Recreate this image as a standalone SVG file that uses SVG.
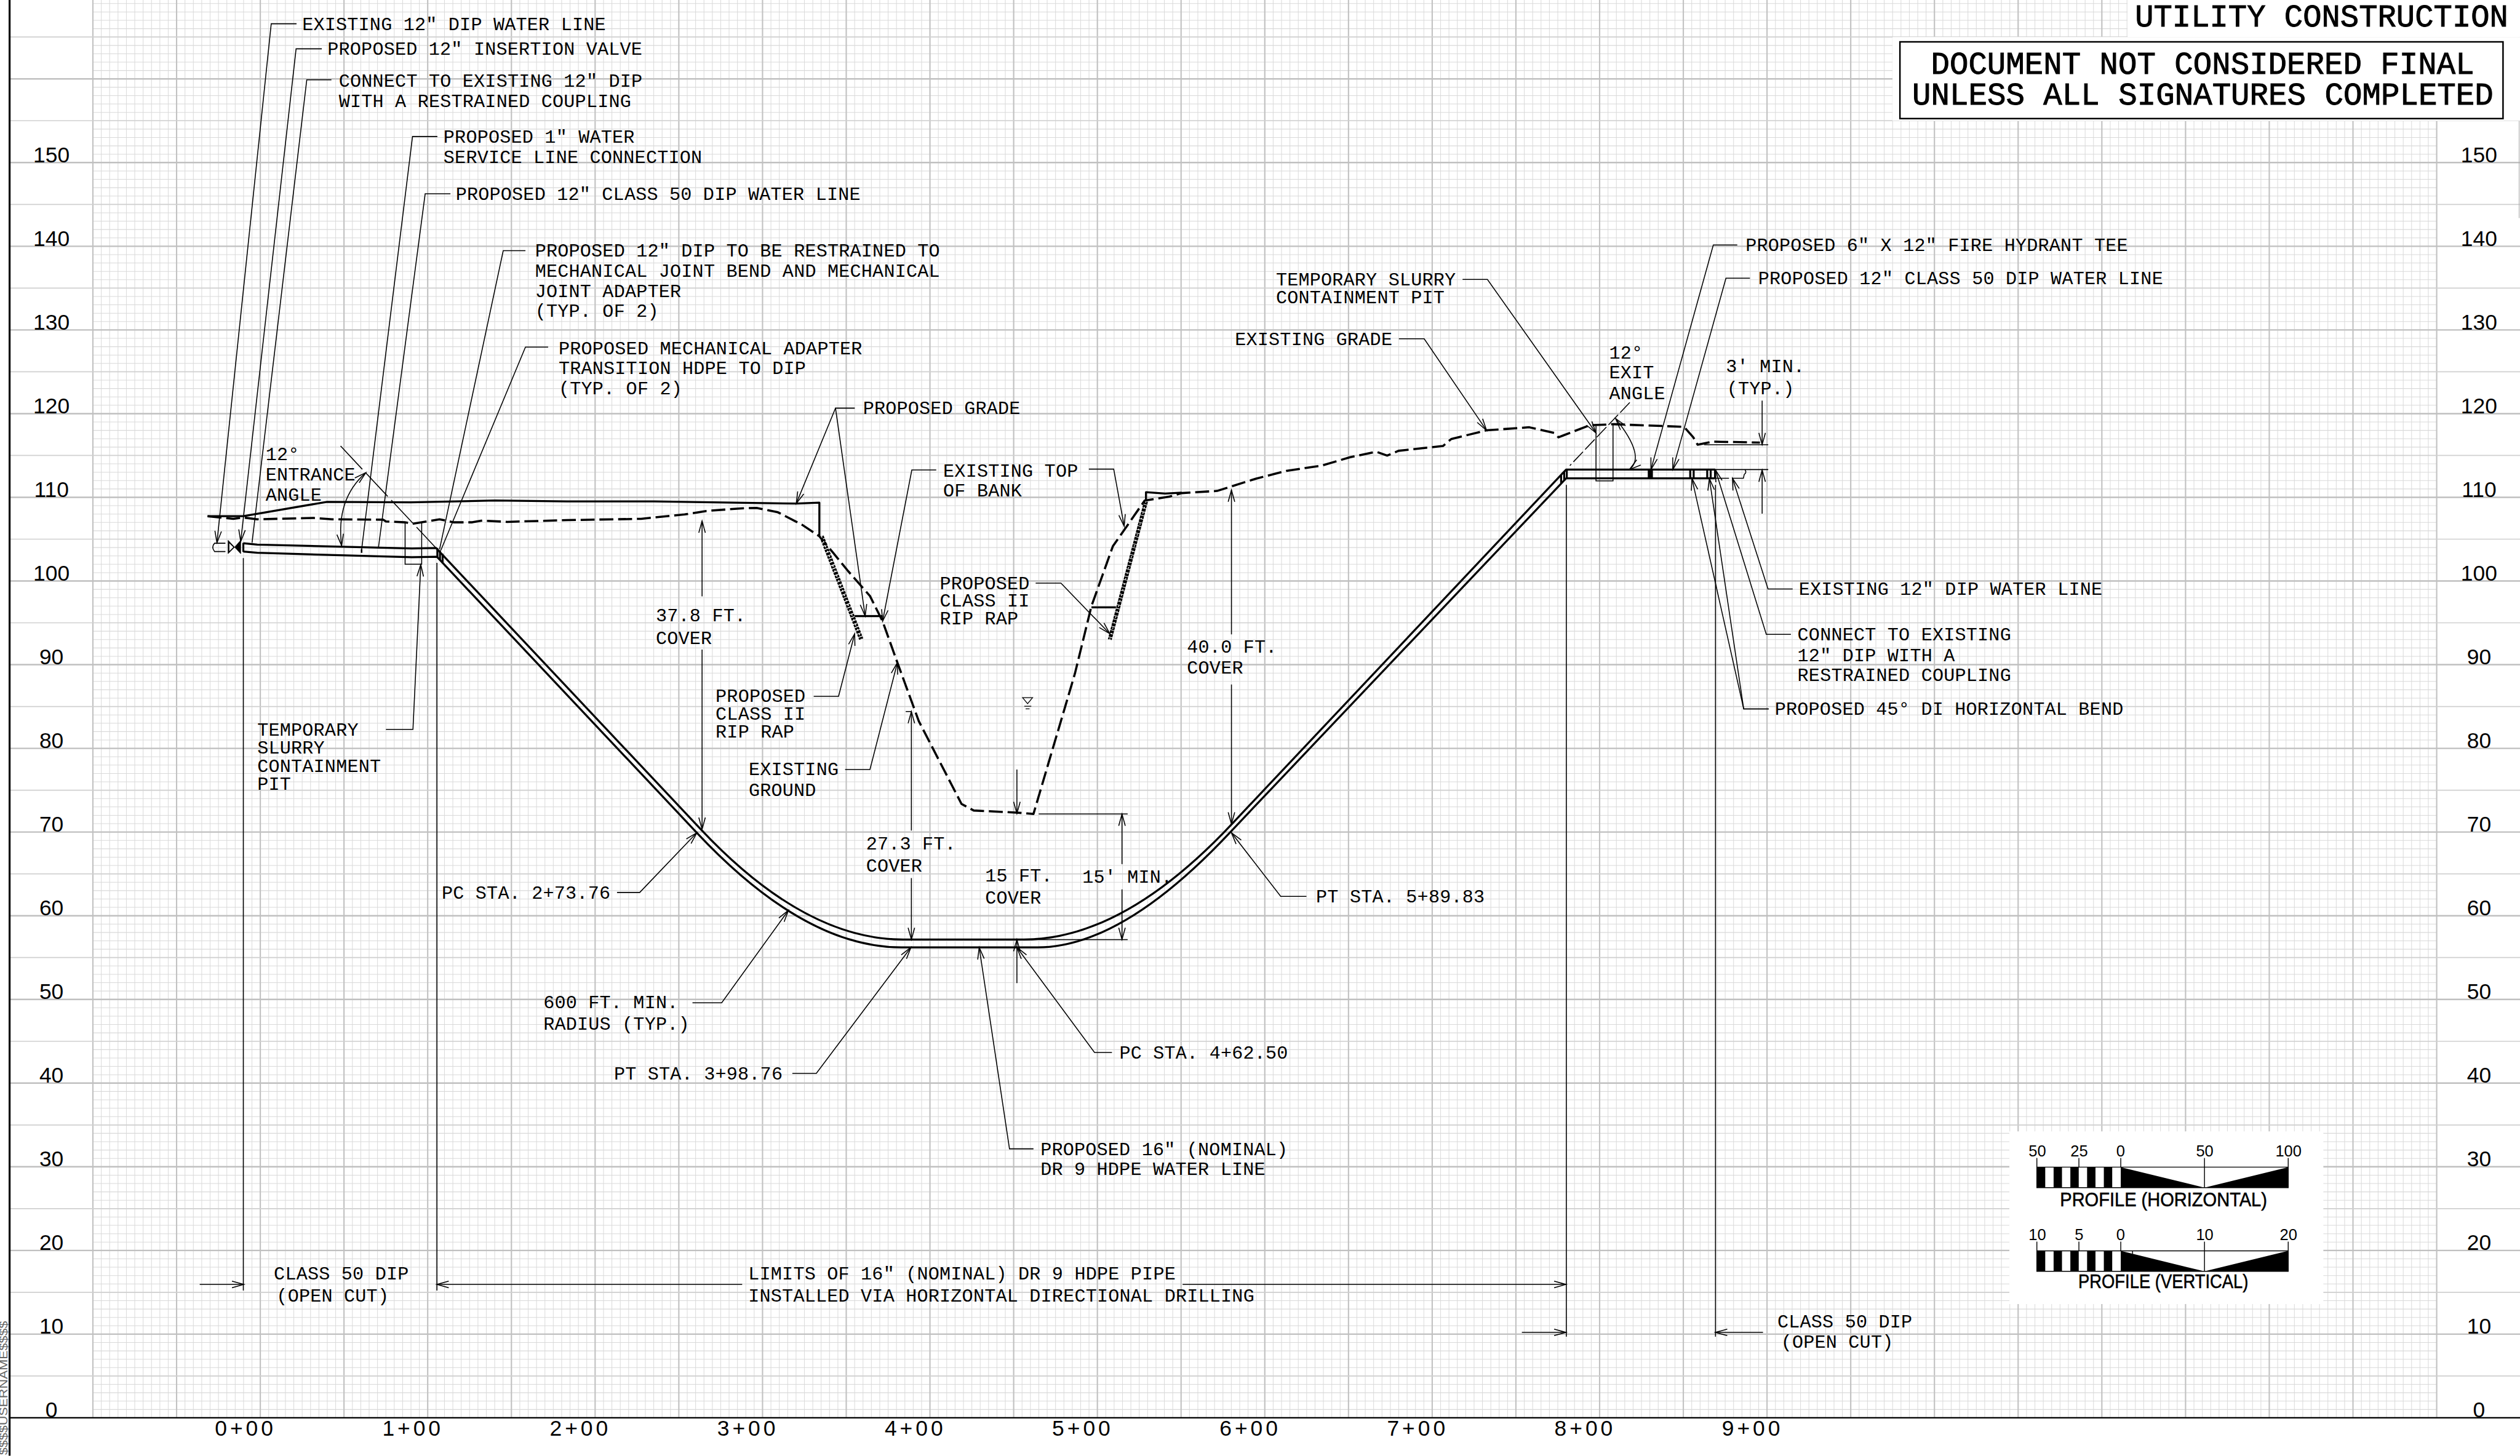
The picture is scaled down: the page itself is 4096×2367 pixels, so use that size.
<svg xmlns="http://www.w3.org/2000/svg" width="4096" height="2367" viewBox="0 0 4096 2367">
<defs>
<style>
.t{font-family:"Liberation Mono","DejaVu Sans Mono",monospace;font-size:42.5px;letter-spacing:.3px;fill:#000}
.b{font-family:"Liberation Mono","DejaVu Sans Mono",monospace;font-size:74px;fill:#000;stroke:#000;stroke-width:1.4px}
.n{font-family:"Liberation Sans",Arial,sans-serif;font-size:50px;fill:#000;text-anchor:middle}
.s{font-family:"Liberation Sans",Arial,sans-serif;font-size:36px;fill:#000;text-anchor:middle}
.p{font-family:"Liberation Sans",Arial,sans-serif;font-size:43px;fill:#000;stroke:#000;stroke-width:.8px}
.l{fill:none;stroke:#000;stroke-width:2.2;marker-end:url(#a)}
.m{fill:none;stroke:#000;stroke-width:2.2}
.d{fill:none;stroke:#000;stroke-width:2.2;stroke-dasharray:32 7}
.g{fill:none;stroke:#000;stroke-width:5;stroke-dasharray:32 11;stroke-linejoin:round}
.h{fill:none;stroke:#000;stroke-width:4.6;stroke-linejoin:round}
</style>
<marker id="a" markerUnits="userSpaceOnUse" markerWidth="40" markerHeight="24" refX="30" refY="12" orient="auto-start-reverse" overflow="visible"><path d="M3,4.5L30,12L3,19.5" fill="none" stroke="#000" stroke-width="2.2"/></marker>
</defs>
<rect width="4096" height="2367" fill="#fff"/>
<g transform="scale(0.70878)">
<g id="grid" fill="none">
<line x1="212.3" y1="1626" x2="5589" y2="1626" stroke="#dcdcdc" stroke-width="3252" stroke-dasharray="1.5 17.696"/>
<line x1="2900.5" y1="3252" x2="2900.5" y2="0" stroke="#d9d9d9" stroke-width="5375" stroke-dasharray="1.5 17.694" stroke-dashoffset=".75"/>
<line x1="211.5" y1="1626" x2="5590" y2="1626" stroke="#c2c2c2" stroke-width="3252" stroke-dasharray="3 188.96"/>
<line x1="2901.5" y1="3157.2" x2="2901.5" y2="0" stroke="#d0d0d0" stroke-width="5755" stroke-dasharray="2.4 189.54"/>
<line x1="2901.5" y1="3252" x2="2901.5" y2="0" stroke="#c0c0c0" stroke-width="5755" stroke-dasharray="3.4 188.54" stroke-dashoffset="1.7"/>
</g>
<g id="frame">
<line x1="22" y1="0" x2="22" y2="3339" stroke="#000" stroke-width="4.5"/>
<line x1="22" y1="3252" x2="5779" y2="3252" stroke="#000" stroke-width="3.2"/>
<line x1="5777" y1="0" x2="5777" y2="500" stroke="#aaa" stroke-width="1.5"/>
<text transform="translate(17,3337) rotate(-90)" font-family="'Liberation Sans',sans-serif" font-size="25" fill="#666" textLength="307" lengthAdjust="spacingAndGlyphs">$$$$USERNAME$$$$</text>
</g>
<g id="elevations-left">
<text class="n" x="118" y="372">150</text><text class="n" x="118" y="564">140</text><text class="n" x="118" y="756">130</text><text class="n" x="118" y="948">120</text><text class="n" x="118" y="1140">110</text><text class="n" x="118" y="1332">100</text><text class="n" x="118" y="1524">90</text><text class="n" x="118" y="1715">80</text><text class="n" x="118" y="1907">70</text><text class="n" x="118" y="2099">60</text><text class="n" x="118" y="2291">50</text><text class="n" x="118" y="2483">40</text><text class="n" x="118" y="2675">30</text><text class="n" x="118" y="2867">20</text><text class="n" x="118" y="3059">10</text><text class="n" x="118" y="3250">0</text>
</g>
<g id="elevations-right">
<text class="n" x="5685" y="372">150</text><text class="n" x="5685" y="564">140</text><text class="n" x="5685" y="756">130</text><text class="n" x="5685" y="948">120</text><text class="n" x="5685" y="1140">110</text><text class="n" x="5685" y="1332">100</text><text class="n" x="5685" y="1524">90</text><text class="n" x="5685" y="1715">80</text><text class="n" x="5685" y="1907">70</text><text class="n" x="5685" y="2099">60</text><text class="n" x="5685" y="2291">50</text><text class="n" x="5685" y="2483">40</text><text class="n" x="5685" y="2675">30</text><text class="n" x="5685" y="2867">20</text><text class="n" x="5685" y="3059">10</text><text class="n" x="5685" y="3250">0</text>
</g>
<g id="stations" letter-spacing="7">
<text class="n" x="563" y="3293">0+00</text><text class="n" x="947" y="3293">1+00</text><text class="n" x="1331" y="3293">2+00</text><text class="n" x="1715" y="3293">3+00</text><text class="n" x="2099" y="3293">4+00</text><text class="n" x="2483" y="3293">5+00</text><text class="n" x="2867" y="3293">6+00</text><text class="n" x="3251" y="3293">7+00</text><text class="n" x="3635" y="3293">8+00</text><text class="n" x="4019" y="3293">9+00</text>
</g>
<g id="title">
<rect x="4879" y="0" width="900" height="85" fill="#fff"/>
<rect x="4340" y="85" width="1439" height="192" fill="#fff"/>
<text class="b" x="4896" y="60" textLength="856" lengthAdjust="spacingAndGlyphs">UTILITY CONSTRUCTION</text>
<rect x="4357" y="96" width="1383" height="176" fill="#fff" stroke="#000" stroke-width="3.5"/>
<text class="b" x="4428" y="169" textLength="1246" lengthAdjust="spacingAndGlyphs">DOCUMENT NOT CONSIDERED FINAL</text>
<text class="b" x="4385" y="240" textLength="1333" lengthAdjust="spacingAndGlyphs">UNLESS ALL SIGNATURES COMPLETED</text>
</g>
<g id="scale-legend">
<rect x="4608" y="2595" width="720" height="396" fill="#fff"/>
<path d="M4671,2677h19.2v47h-19.2zM4709.4,2677h19.2v47h-19.2zM4747.8,2677h19.2v47h-19.2zM4786.2,2677h19.2v47h-19.2zM4824.6,2677h19.2v47h-19.2zM4863.4,2677L5055.4,2724H4863.4zM5247.4,2677V2724H5055.4z" fill="#000"/>
<path d="M4671,2656V2724H5247.4V2656M4671,2677H5247.4M4767.4,2656V2677M4863.4,2656V2677M5055.4,2656V2724" fill="none" stroke="#000" stroke-width="2"/>
<text class="s" x="4672" y="2653">50</text><text class="s" x="4768" y="2653">25</text><text class="s" x="4863" y="2653">0</text><text class="s" x="5056" y="2653">50</text><text class="s" x="5248" y="2653">100</text>
<text class="p" x="4724" y="2767" textLength="475" lengthAdjust="spacingAndGlyphs">PROFILE (HORIZONTAL)</text>
<path d="M4671,2869h19.2v47h-19.2zM4709.4,2869h19.2v47h-19.2zM4747.8,2869h19.2v47h-19.2zM4786.2,2869h19.2v47h-19.2zM4824.6,2869h19.2v47h-19.2zM4863.4,2869L5055.4,2916H4863.4zM5247.4,2869V2916H5055.4z" fill="#000"/>
<path d="M4671,2848V2916H5247.4V2848M4671,2869H5247.4M4767.4,2848V2869M4863.4,2848V2869M5055.4,2848V2916M4890.4,2869V2876" fill="none" stroke="#000" stroke-width="2"/>
<text class="s" x="4672" y="2845">10</text><text class="s" x="4768" y="2845">5</text><text class="s" x="4863" y="2845">0</text><text class="s" x="5056" y="2845">10</text><text class="s" x="5248" y="2845">20</text>
<text class="p" x="4766" y="2955" textLength="390" lengthAdjust="spacingAndGlyphs">PROFILE (VERTICAL)</text>
</g>
<g id="profile">
<path id="existing-ground" class="g" d="M476,1184L535,1190L558,1187L590,1191L719,1188L762,1191L879,1192L885,1196L928,1198L948,1201L1008,1191L1040,1198L1083,1198L1106,1194L1163,1197L1300,1193L1470,1190L1570,1180L1620,1172L1700,1166L1735,1165L1784,1175L1840,1204L1879,1230L1910,1267L1945,1310L1995,1367L2024,1425L2058,1520L2107,1654L2205,1844L2233,1859L2335,1864L2370,1867L2465,1545L2503,1390L2552,1253L2625,1148L2682,1139L2710,1131L2791,1126L2880,1098L2950,1080L3031,1068L3095,1049L3156,1036L3181,1045L3207,1034L3309,1023L3328,1007L3409,987L3507,980L3564,993L3574,1003L3641,977L3656,975L3701,973L3862,979L3883,1003L3893,1020L3928,1013L4036,1015"/>
<path id="proposed-grade" class="h" d="M476,1184H558L750,1151L942,1152L1135,1148L1300,1150L1500,1150L1826,1155L1879,1153V1230M1960,1413H2024M2503,1393H2559M2628,1148V1129L2672,1132L2710,1130"/>
<path id="riprap-left" d="M1884,1230L1975,1466" fill="none" stroke="#000" stroke-width="10" stroke-dasharray="6 2"/>
<path d="M1884,1230L1975,1466" fill="none" stroke="#fff" stroke-width="2.5" stroke-dasharray="3 9"/>
<path id="riprap-right" d="M2628,1150L2545,1467" fill="none" stroke="#000" stroke-width="9" stroke-dasharray="7 1.500"/>
<path d="M2628,1150L2545,1467" fill="none" stroke="#fff" stroke-width="2" stroke-dasharray="3 10"/>
<path id="pipe-top" class="h" d="M558,1246L590,1249L945,1258L1000,1257L1607,1902Q1845,2155 2071,2155H2348Q2576,2155 2825,1890L3591.5,1077H3933"/>
<path id="pipe-bottom" class="h" d="M558,1265L590,1268L945,1278L1002,1277L1598,1910Q1845,2173 2067,2173H2379Q2573,2173 2820,1910L3591.5,1097H3933"/>
<path id="joints" d="M558,1245V1266M1003,1257V1277M1009,1262V1284M1015,1270V1292M3580,1089V1108M3587,1082V1102M3593,1077V1097M3781,1077V1097M3788,1077V1097M3876,1077V1097M3884,1077V1097M3915,1077V1097M3923,1077V1097M3933,1077V1097" fill="none" stroke="#000" stroke-width="4.5"/>
<path d="M3781,1077h9v20h-9z" fill="#000"/>
<path id="existing-stub-left" class="m" d="M517,1246H492Q484,1255 492,1265H517"/>
<path id="valve" d="M538,1255L523,1239V1270ZM538,1255L552,1239V1270Z" fill="#000" stroke="#000" stroke-width="1"/>
<path d="M535,1255L526,1246V1264Z" fill="#fff"/>
<path id="existing-stub-right" class="m" d="M3933,1077H4055M3933,1097H3965M3972,1097H3998L4000,1088Q4006,1084 4002,1078"/>
<path id="pits" class="m" d="M929,1198V1294H967V1199M3660,977V1103H3699V973"/>
<rect x="827.5" y="1260" width="3.5" height="8" fill="#000"/>
<path id="angle-ext-left" class="m" d="M781,1023L1000,1257" stroke-dasharray="73 12"/>
<path id="angle-ext-right" class="d" d="M3737.5,923L3600,1068"/>
<path id="water" d="M2345,1600H2368L2356.500,1614ZM2349,1620H2365M2352,1626H2361" fill="none" stroke="#000" stroke-width="1.8"/>
</g>
<g id="connectors">
<path class="l" d="M680,54.500H622L497.500,1245"/>
<path class="l" d="M738,112H679L552,1242"/>
<path class="m" d="M760,183H703.500L578,1245"/>
<path class="m" d="M1003,313H946L829,1263"/>
<path class="m" d="M1033,444.500H975L868,1255"/>
<path class="m" d="M1205,575H1154L1008,1260"/>
<path class="m" d="M1257,796H1205L1011,1262"/>
<path class="l" d="M885,1673H947L965,1295"/>
<path style="marker-start:url(#a)" class="l" d="M839,1084Q769.600,1145 783.500,1252"/>
<path class="l" d="M1960,936H1916L1826,1155"/>
<path class="l" d="M1960,936H1916L1984,1413"/>
<path class="l" d="M2147,1078H2091L2024,1425"/>
<path class="l" d="M2497,1076H2554L2578,1207"/>
<path class="l" d="M2375,1337.500H2433L2545,1453.500"/>
<path class="l" d="M1866,1597H1923L1960,1453.500"/>
<path class="l" d="M1938,1765H1995L2058,1519.500"/>
<path class="l" d="M1415,2047H1467L1598,1910"/>
<path class="l" d="M2996,2056H2937L2824,1910"/>
<path class="l" d="M1588,2300H1655L1808,2088"/>
<path class="l" d="M1817,2462H1872L2089,2173"/>
<path class="l" d="M2550,2414H2510L2332,2173"/>
<path class="l" d="M2370,2635H2315L2245.500,2173"/>
<path class="l" d="M1610,1368V1195"/><path class="l" d="M1610,1490V1902"/>
<path class="l" d="M2090,1905V1632"/><path class="m" d="M2077,1632H2090"/><path class="l" d="M2090,2014V2155"/>
<path class="l" d="M2332,1765V1866"/><path class="l" d="M2332,2255V2155"/>
<path class="l" d="M2573,1982V1867"/><path class="l" d="M2573,2040V2155"/>
<path class="m" d="M2382,1867H2586M2348,2155H2586"/>
<path class="l" d="M2824,1455V1124"/><path class="l" d="M2824,1570V1890"/>
<path class="l" d="M3354,641H3411L3660,993"/>
<path class="l" d="M3208,777H3266L3409,987"/>
<path class="l" d="M3984,562H3929L3786,1077"/>
<path class="l" d="M4013,638H3958L3836,1077"/>
<path style="marker-start:url(#a)" class="l" d="M3705,960Q3775,1047.500 3736.600,1077"/>
<path class="l" d="M4041,919V1020"/><path class="m" d="M3908,1020H4055"/>
<path class="l" d="M4041,1178V1078"/>
<path class="l" d="M4111,1351H4054.500L3973,1097"/>
<path class="l" d="M4107,1455H4050.500L3934,1078"/>
<path class="l" d="M4056,1626H3998.700L3880,1097.500"/>
<path class="l" d="M4056,1626H3998.700L3920,1097.500"/>
<path class="m" d="M558,1280V2960M1002,1291V2960M3592,1112V3066M3934,1112V3066"/>
<path class="l" d="M458,2946H559"/>
<path class="l" d="M1702,2946H1002"/>
<path class="l" d="M2712,2946H3591"/>
<path class="l" d="M3490,3056H3591"/>
<path class="l" d="M4043,3056H3934"/>
</g>
<g id="labels">
<text class="t" x="693" y="69">EXISTING 12″ DIP WATER LINE</text>
<text class="t" x="751" y="126">PROPOSED 12″ INSERTION VALVE</text>
<text class="t" x="777" y="199">CONNECT TO EXISTING 12″ DIP</text>
<text class="t" x="777" y="245">WITH A RESTRAINED COUPLING</text>
<text class="t" x="1017" y="328">PROPOSED 1″ WATER</text>
<text class="t" x="1017" y="374">SERVICE LINE CONNECTION</text>
<text class="t" x="1045" y="459">PROPOSED 12″ CLASS 50 DIP WATER LINE</text>
<text class="t" x="1227" y="589">PROPOSED 12″ DIP TO BE RESTRAINED TO</text>
<text class="t" x="1227" y="635">MECHANICAL JOINT BEND AND MECHANICAL</text>
<text class="t" x="1227" y="681">JOINT ADAPTER</text>
<text class="t" x="1227" y="727">(TYP. OF 2)</text>
<text class="t" x="1281" y="812">PROPOSED MECHANICAL ADAPTER</text>
<text class="t" x="1281" y="858">TRANSITION HDPE TO DIP</text>
<text class="t" x="1281" y="904">(TYP. OF 2)</text>
<text class="t" x="609" y="1055">12°</text>
<text class="t" x="609" y="1102">ENTRANCE</text>
<text class="t" x="609" y="1148">ANGLE</text>
<text class="t" x="1979" y="950">PROPOSED GRADE</text>
<text class="t" x="2163" y="1093">EXISTING TOP</text>
<text class="t" x="2163" y="1139">OF BANK</text>
<text class="t" x="2155" y="1351">PROPOSED</text>
<text class="t" x="2155" y="1391">CLASS II</text>
<text class="t" x="2155" y="1432">RIP RAP</text>
<text class="t" x="1641" y="1610">PROPOSED</text>
<text class="t" x="1641" y="1651">CLASS II</text>
<text class="t" x="1641" y="1692">RIP RAP</text>
<text class="t" x="1717" y="1778">EXISTING</text>
<text class="t" x="1717" y="1825">GROUND</text>
<text class="t" x="1504" y="1425">37.8 FT.</text>
<text class="t" x="1504" y="1477">COVER</text>
<text class="t" x="2722" y="1497">40.0 FT.</text>
<text class="t" x="2722" y="1545">COVER</text>
<text class="t" x="1986" y="1948">27.3 FT.</text>
<text class="t" x="1986" y="1999">COVER</text>
<text class="t" x="2259" y="2022">15 FT.</text>
<text class="t" x="2259" y="2072">COVER</text>
<text class="t" x="2482" y="2025">15′ MIN.</text>
<text class="t" x="590" y="1687">TEMPORARY</text>
<text class="t" x="590" y="1729">SLURRY</text>
<text class="t" x="590" y="1770">CONTAINMENT</text>
<text class="t" x="590" y="1811">PIT</text>
<text class="t" x="1013" y="2061">PC STA. 2+73.76</text>
<text class="t" x="3018" y="2070">PT STA. 5+89.83</text>
<text class="t" x="1246" y="2313">600 FT. MIN.</text>
<text class="t" x="1246" y="2362">RADIUS (TYP.)</text>
<text class="t" x="1408" y="2476">PT STA. 3+98.76</text>
<text class="t" x="2567" y="2428">PC STA. 4+62.50</text>
<text class="t" x="2386" y="2649">PROPOSED 16″ (NOMINAL)</text>
<text class="t" x="2386" y="2695">DR 9 HDPE WATER LINE</text>
<text class="t" x="628" y="2935">CLASS 50 DIP</text>
<text class="t" x="634" y="2985">(OPEN CUT)</text>
<text class="t" x="1716" y="2935">LIMITS OF 16″ (NOMINAL) DR 9 HDPE PIPE</text>
<text class="t" x="1716" y="2985">INSTALLED VIA HORIZONTAL DIRECTIONAL DRILLING</text>
<text class="t" x="4076" y="3044">CLASS 50 DIP</text>
<text class="t" x="4084" y="3091">(OPEN CUT)</text>
<text class="t" x="2926" y="655">TEMPORARY SLURRY</text>
<text class="t" x="2926" y="695">CONTAINMENT PIT</text>
<text class="t" x="2832" y="791">EXISTING GRADE</text>
<text class="t" x="3690" y="822">12°</text>
<text class="t" x="3690" y="868">EXIT</text>
<text class="t" x="3690" y="916">ANGLE</text>
<text class="t" x="3958" y="853">3′ MIN.</text>
<text class="t" x="3960" y="904">(TYP.)</text>
<text class="t" x="4003" y="576">PROPOSED 6″ X 12″ FIRE HYDRANT TEE</text>
<text class="t" x="4032" y="652">PROPOSED 12″ CLASS 50 DIP WATER LINE</text>
<text class="t" x="4125" y="1365">EXISTING 12″ DIP WATER LINE</text>
<text class="t" x="4122" y="1469">CONNECT TO EXISTING</text>
<text class="t" x="4122" y="1516">12″ DIP WITH A</text>
<text class="t" x="4122" y="1562">RESTRAINED COUPLING</text>
<text class="t" x="4070" y="1640">PROPOSED 45° DI HORIZONTAL BEND</text>
</g>
</g>
</svg>
